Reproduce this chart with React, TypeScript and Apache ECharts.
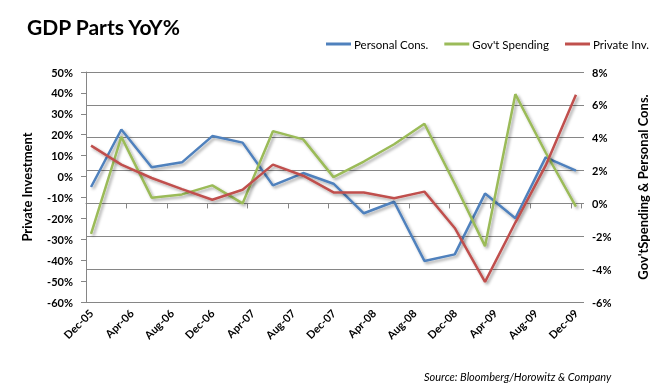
import React, { useEffect, useRef } from "react";
import * as echarts from "echarts";

// Quarterly observation dates
const quarters = [
  "Dec-05", "Mar-06", "Jun-06", "Sep-06", "Dec-06", "Mar-07", "Jun-07", "Sep-07",
  "Dec-07", "Mar-08", "Jun-08", "Sep-08", "Dec-08", "Mar-09", "Jun-09", "Sep-09", "Dec-09",
];
// Right axis (%)
const personalCons = [1.0, 4.5, 2.2, 2.5, 4.1, 3.7, 1.1, 1.85, 1.2, -0.6, 0.1, -3.5, -3.1, 0.6, -0.9, 2.8, 2.0];
const govSpending = [-1.85, 4.05, 0.35, 0.55, 1.1, 0.0, 4.4, 3.9, 1.6, 2.55, 3.6, 4.85, 1.2, -2.6, 6.65, 3.1, -0.2];
// Left axis (%)
const privateInv = [14.8, 5.7, -0.7, -6.0, -11.1, -6.3, 5.7, 0.4, -7.6, -7.6, -10.4, -7.2, -24.6, -50.4, -22.0, 5.2, 39.1];

const seriesNames = ["Personal Cons.", "Gov't Spending", "Private Inv."];
const seriesColors = ["#4F81BD", "#9BBB59", "#C0504D"];

const leftAxis = { min: -60, max: 50, interval: 10 };
const rightAxis = { min: -6, max: 8, interval: 2 };

const MONTH_NAMES = ["Jan", "Feb", "Mar", "Apr", "May", "Jun", "Jul", "Aug", "Sep", "Oct", "Nov", "Dec"];
const monthCategories: string[] = [];
for (let i = 0; i < 49; i++) {
  const k = 11 + i;
  const m = k % 12;
  const y = 2005 + Math.floor(k / 12);
  monthCategories.push(`${MONTH_NAMES[m]}-${String(y % 100).padStart(2, "0")}`);
}

const FONT = "Lato";
const GRAY = "#868686";

export default function App() {
  const ref = useRef<HTMLDivElement>(null);
  useEffect(() => {
    if (!ref.current) return;
    const chart = echarts.init(ref.current, undefined, { renderer: "svg" });
    const shadow = {
      shadowColor: "rgba(0,0,0,0.35)",
      shadowBlur: 3,
      shadowOffsetX: 2,
      shadowOffsetY: 2,
    };
    const values = [personalCons, govSpending, privateInv];
    const axisIdx = [1, 1, 0];
    chart.setOption({
      animation: false,
      textStyle: { fontFamily: FONT },
      title: {
        text: "GDP Parts YoY%",
        left: 22,
        top: 11,
        textStyle: { fontFamily: FONT, fontSize: 21, fontWeight: "bold", color: "#000" },
      },
      legend: {
        data: seriesNames.map((n) => ({ name: n, icon: "rect" })),
        left: 321,
        top: 33,
        itemWidth: 25,
        itemHeight: 3,
        itemGap: 16,
        textStyle: { fontFamily: FONT, fontSize: 11.5, color: "#000", padding: [0, 0, 0, -2] },
      },
      grid: { left: 86, right: 80, top: 72, bottom: 87, containLabel: false },
      xAxis: [
        {
          type: "category",
          data: monthCategories,
          boundaryGap: true,
          position: "bottom",
          axisLine: { show: false, onZero: false },
          axisTick: { show: false },
          axisLabel: {
            interval: 3,
            rotate: 45,
            margin: 9,
            fontFamily: FONT,
            fontSize: 11,
            fontWeight: "bold",
            color: "#000",
          },
          splitLine: { show: false },
        },
        {
          type: "category",
          data: monthCategories,
          boundaryGap: true,
          position: "bottom",
          axisLine: { show: true, onZero: true, onZeroAxisIndex: 1, lineStyle: { color: GRAY, width: 1 } },
          axisTick: { show: true, interval: 3, length: 5, lineStyle: { color: GRAY } },
          axisLabel: { show: false },
          splitLine: { show: false },
        },
      ],
      yAxis: [
        {
          type: "value",
          position: "left",
          ...leftAxis,
          name: "Private Investment",
          nameLocation: "middle",
          nameRotate: 90,
          nameGap: 53,
          nameTextStyle: { fontFamily: FONT, fontSize: 13, fontWeight: "bold", color: "#000" },
          axisLine: { show: true, lineStyle: { color: GRAY } },
          axisTick: { show: true, length: 5, lineStyle: { color: GRAY } },
          axisLabel: {
            formatter: "{value}%",
            margin: 13,
            fontFamily: FONT,
            fontSize: 11,
            fontWeight: "bold",
            color: "#000",
          },
          splitLine: { show: false },
        },
        {
          type: "value",
          position: "right",
          ...rightAxis,
          name: "Gov'tSpending & Personal Cons.",
          nameLocation: "middle",
          nameRotate: 90,
          nameGap: 55,
          nameTextStyle: { fontFamily: FONT, fontSize: 13, fontWeight: "bold", color: "#000" },
          axisLine: { show: false },
          axisTick: { show: true, length: 3, lineStyle: { color: GRAY } },
          axisLabel: {
            formatter: "{value}%",
            margin: 11,
            fontFamily: FONT,
            fontSize: 11,
            fontWeight: "bold",
            color: "#000",
          },
          splitLine: { show: true, lineStyle: { color: GRAY, width: 1 } },
        },
      ],
      series: seriesNames.map((name, s) => ({
        name,
        type: "line",
        xAxisIndex: 0,
        yAxisIndex: axisIdx[s],
        data: quarters.map((q, i) => [q, values[s][i]]),
        symbol: "none",
        color: seriesColors[s],
        lineStyle: { width: 2.5, color: seriesColors[s], ...shadow },
      })),
      graphic: [
        {
          type: "text",
          left: 424,
          top: 371,
          style: {
            text: "Source: Bloomberg/Horowitz & Company",
            fontFamily: FONT,
            fontSize: 11,
            fontStyle: "italic",
            fill: "#000",
          },
        },
      ],
    });
    return () => chart.dispose();
  }, []);
  return (
    <div
      ref={ref}
      style={{ position: "fixed", left: 0, top: 0, width: 661, height: 389 }}
    />
  );
}
